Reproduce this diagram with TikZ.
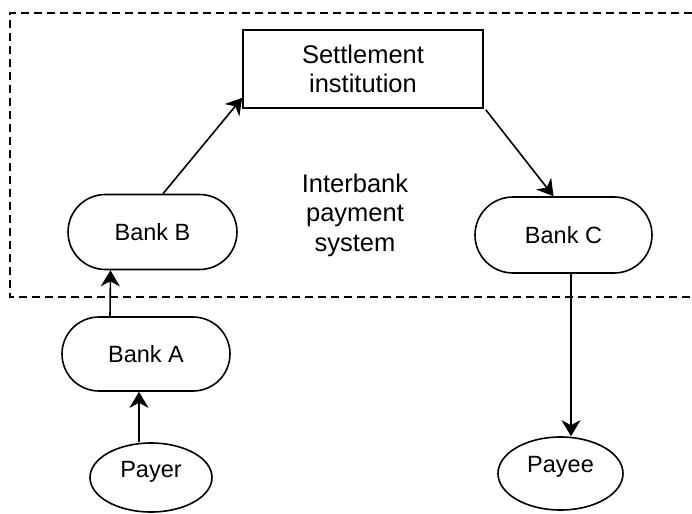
\documentclass[tikz,border=0pt]{standalone}
\usepackage{fontspec}
\setmainfont{Liberation Sans}
\usetikzlibrary{arrows.meta,shapes.geometric,shapes.misc}
\tikzset{
  line/.style={line width=1.6pt},
  arr/.style={line width=1.6pt,-{Stealth[length=16pt,width=19pt,inset=5pt]}},
  bank/.style={draw,line width=1.6pt,rounded rectangle,inner sep=0pt,
    font=\fontsize{23.5}{28}\selectfont},
  person/.style={draw,line width=1.6pt,ellipse,inner sep=0pt},
  bigtext/.style={font=\fontsize{25.5}{29.5}\selectfont,align=center,inner sep=0pt},
  smalltext/.style={font=\fontsize{23.5}{28}\selectfont,inner sep=0pt},
}
\begin{document}
\begin{tikzpicture}[x=1pt,y=-1pt]
\useasboundingbox (0,0) rectangle (692,513);
\draw[line width=1.3pt,dash pattern=on 8pt off 5pt] (692,13) -- (10,13) -- (10,297) -- (692,297);
\node[draw,line width=1.6pt,rectangle,minimum width=240pt,minimum height=78pt,inner sep=0pt] (settle) at (363,69) {};
\node[bigtext] (settletext) at (363,69) {Settlement\\institution};
\node[bigtext] (inter) at (355,215) {Interbank\\payment\\system};
\node[bank,minimum width=169pt,minimum height=75pt] (bankB) at (152.5,232) {Bank B};
\node[bank,minimum width=168pt,minimum height=74pt] (bankA) at (146,354) {Bank A};
\node[bank,minimum width=177pt,minimum height=76pt] (bankC) at (563.5,235) {Bank C};
\node[person,minimum width=122pt,minimum height=69pt] (payer) at (151,477.5) {};
\node[smalltext] (payertext) at (151,472) {Payer};
\node[person,minimum width=125pt,minimum height=73pt] (payee) at (560.5,473.5) {};
\node[smalltext] (payeetext) at (560.5,467) {Payee};
\draw[arr] ([xshift=-12pt]payer.north) -- ([xshift=-7pt]bankA.south);
\draw[arr] ([xshift=-36pt]bankA.north) -- ([xshift=-42pt]bankB.south);
\draw[arr] ([xshift=10.5pt]bankB.north) -- ([yshift=11pt]settle.south west);
\draw[arr] ([xshift=2pt,yshift=-1pt]settle.south east) -- ([xshift=-10pt]bankC.north);
\draw[arr] ([xshift=7.5pt]bankC.south) -- ([xshift=10.5pt]payee.north);
\end{tikzpicture}
\end{document}
